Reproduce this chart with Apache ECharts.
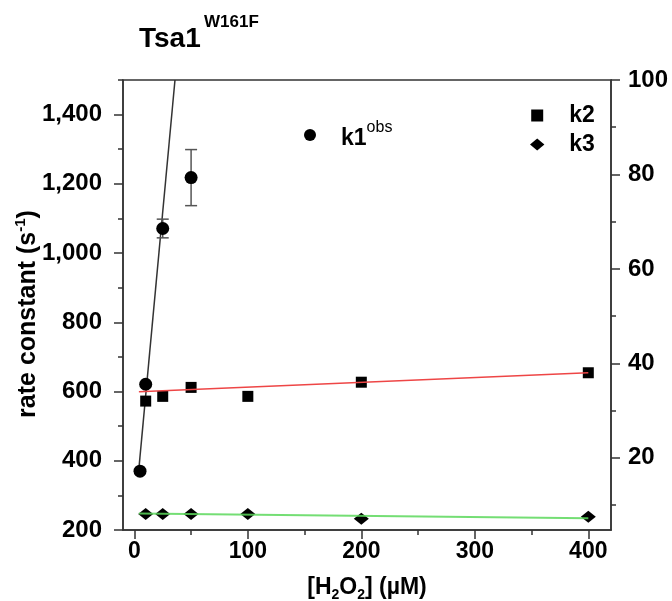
<!DOCTYPE html>
<html>
<head>
<meta charset="utf-8">
<script src="https://cdn.jsdelivr.net/npm/echarts@6/dist/echarts.min.js"></script>
<style>
html,body{margin:0;padding:0;background:#fff;}
#chart{width:672px;height:601px;}
</style>
</head>
<body>
<div id="chart"></div>
<script>
// ---- data ----
const concK1 = [5, 10, 25, 50];
const k1obs = [370, 621, 1071, 1218];
const k1err = [0, 0, 27, 81];
const concK23 = [10, 25, 50, 100, 200, 400];
const k2 = [32.0, 33.0, 34.9, 33.0, 36.0, 38.0];
const k3 = [8.1, 8.1, 8.1, 8.1, 7.1, 7.5];
const k1FitX = [3.8, 35.8];
const k1FitY = [370, 1500];
const k2FitX = [4, 400];
const k2FitY = [34.0, 38.0];
const k3FitX = [4, 400];
const k3FitY = [8.2, 7.2];
const xTicks = [0, 100, 200, 300, 400];
const xMinorTicks = [50, 150, 250, 350];
const leftTicks = [200, 400, 600, 800, 1000, 1200, 1400];
const leftMinorTicks = [300, 500, 700, 900, 1100, 1300, 1500];
const rightTicks = [20, 40, 60, 80, 100];
const rightMinorTicks = [10, 30, 50, 70, 90];

const FONT = "'Liberation Sans', Arial, Helvetica, sans-serif";
const AX = '#333';
const pairs = (xs, ys) => xs.map((x, i) => [x, ys[i]]);

const chart = echarts.init(document.getElementById('chart'), null, {renderer: 'canvas'});

const labelStyle = {fontFamily: FONT, fontSize: 23, fontWeight: 'bold', color: '#000'};

function xAx(extra) {
  return Object.assign({
    type: 'value', min: -10, max: 420, position: 'bottom',
    axisLine: {show: true, onZero: false, lineStyle: {color: AX, width: 1.5}},
    splitLine: {show: false}, nameMoveOverlap: false
  }, extra);
}
function yAx(extra) {
  return Object.assign({
    type: 'value',
    axisLine: {show: true, onZero: false, lineStyle: {color: AX, width: 1.5}},
    splitLine: {show: false}, nameMoveOverlap: false
  }, extra);
}

const option = {
  backgroundColor: '#fff',
  animation: false,
  title: [
    {text: 'Tsa1', left: 139, top: 25, padding: 0,
     textStyle: {fontFamily: FONT, fontSize: 28, fontWeight: 'bold', color: '#000'}},
    {text: 'W161F', left: 204, top: 14, padding: 0,
     textStyle: {fontFamily: FONT, fontSize: 17, fontWeight: 'bold', color: '#000'}}
  ],
  legend: [
    {
      data: [{name: 'k1obs', icon: 'circle'}],
      left: 304, top: 120, padding: 0, itemWidth: 52, itemHeight: 12,
      formatter: () => '{m|k1}{s|obs}',
      itemStyle: {opacity: 1},
      textStyle: {
        fontFamily: FONT, color: '#000',
        rich: {
          m: {fontFamily: FONT, fontSize: 23, fontWeight: 'bold', color: '#000', lineHeight: 30, verticalAlign: 'bottom'},
          s: {fontFamily: FONT, fontSize: 16, color: '#000', lineHeight: 16, verticalAlign: 'top'}
        }
      }
    },
    {
      data: [
        {name: 'k2', icon: 'path://M0,0L10,0L10,10L0,10Z'},
        {name: 'k3', icon: 'path://M6,0L12,5L6,10L0,5Z'}
      ],
      orient: 'vertical', left: 530, top: 104, padding: 0, itemGap: 6,
      itemWidth: 54, itemHeight: 12, symbolKeepAspect: true,
      itemStyle: {opacity: 1},
      textStyle: {fontFamily: FONT, fontSize: 23, fontWeight: 'bold', color: '#000'}
    }
  ],
  grid: {left: 123, right: 61, top: 80, bottom: 71, containLabel: false, outerBoundsMode: 'none',
    show: true, borderColor: AX, borderWidth: 1.5, backgroundColor: 'transparent'},
  xAxis: [
    xAx({
      name: '{t|[H}{b|2}{t|O}{b|2}{t|] (µM)}',
      nameLocation: 'middle', nameGap: 46,
      nameTextStyle: {
        rich: {
          t: {fontFamily: FONT, fontSize: 23, fontWeight: 'bold', color: '#000', lineHeight: 26, verticalAlign: 'top'},
          b: {fontFamily: FONT, fontSize: 14, fontWeight: 'bold', color: '#000', lineHeight: 14, verticalAlign: 'bottom'}
        }
      },
      axisTick: {show: true, length: 9, customValues: xTicks, lineStyle: {color: AX, width: 1.5}},
      axisLabel: Object.assign({margin: 10, customValues: xTicks}, labelStyle)
    }),
    xAx({
      axisLine: {show: false, onZero: false},
      axisTick: {show: true, length: 5, customValues: xMinorTicks, lineStyle: {color: AX, width: 1.5}},
      axisLabel: {show: false}
    })
  ],
  yAxis: [
    yAx({
      min: 200, max: 1500, position: 'left',
      axisTick: {show: true, length: 9, customValues: leftTicks, lineStyle: {color: AX, width: 1.5}},
      axisLabel: Object.assign({margin: 21, customValues: leftTicks,
        formatter: v => Number(v).toLocaleString('en-US')}, labelStyle, {fontSize: 24}),
      name: '{t|rate constant (s}{s|-1}{t|)}',
      nameLocation: 'middle', nameGap: 82, nameRotate: 90,
      nameTextStyle: {
        padding: [0, 18, 0, 0],
        rich: {
          t: {fontFamily: FONT, fontSize: 25, fontWeight: 'bold', color: '#000', lineHeight: 28, verticalAlign: 'bottom'},
          s: {fontFamily: FONT, fontSize: 15, fontWeight: 'bold', color: '#000', lineHeight: 15, verticalAlign: 'top'}
        }
      }
    }),
    yAx({
      min: 200, max: 1500, position: 'left',
      axisLine: {show: false, onZero: false},
      axisTick: {show: true, length: 5, customValues: leftMinorTicks, lineStyle: {color: AX, width: 1.5}},
      axisLabel: {show: false}
    }),
    yAx({
      min: 4.7, max: 100, position: 'right',
      axisTick: {show: true, length: 9, customValues: rightTicks, lineStyle: {color: AX, width: 1.5}},
      axisLabel: Object.assign({margin: 17, customValues: rightTicks}, labelStyle, {fontSize: 24})
    }),
    yAx({
      min: 4.7, max: 100, position: 'right',
      axisLine: {show: false, onZero: false},
      axisTick: {show: true, length: 5, customValues: rightMinorTicks, lineStyle: {color: AX, width: 1.5}},
      axisLabel: {show: false}
    })
  ],
  series: [
    {
      name: 'k1fit', type: 'line', xAxisIndex: 0, yAxisIndex: 0,
      data: pairs(k1FitX, k1FitY), showSymbol: false, symbol: 'none',
      lineStyle: {color: '#333', width: 1.5}, z: 2, silent: true
    },
    {
      name: 'k1err', type: 'custom', xAxisIndex: 0, yAxisIndex: 0,
      data: concK1.map((x, i) => [x, k1obs[i], k1err[i]]),
      renderItem: function (params, api) {
        const x = api.value(0), y = api.value(1), e = api.value(2);
        if (!e) return null;
        const top = api.coord([x, y + e]);
        const bot = api.coord([x, y - e]);
        const w = 6;
        const st = {stroke: '#555', lineWidth: 1.5, fill: null};
        return {
          type: 'group',
          children: [
            {type: 'line', shape: {x1: top[0], y1: top[1], x2: bot[0], y2: bot[1]}, style: st},
            {type: 'line', shape: {x1: top[0] - w, y1: top[1], x2: top[0] + w, y2: top[1]}, style: st},
            {type: 'line', shape: {x1: bot[0] - w, y1: bot[1], x2: bot[0] + w, y2: bot[1]}, style: st}
          ]
        };
      },
      z: 3, silent: true
    },
    {
      name: 'k1obs', type: 'scatter', xAxisIndex: 0, yAxisIndex: 0,
      data: pairs(concK1, k1obs), symbol: 'circle', symbolSize: 13,
      itemStyle: {color: '#000', opacity: 1}, z: 4
    },
    {
      name: 'k2fit', type: 'line', xAxisIndex: 0, yAxisIndex: 2,
      data: pairs(k2FitX, k2FitY), showSymbol: false, symbol: 'none',
      lineStyle: {color: '#ee4646', width: 1.5}, z: 5, silent: true
    },
    {
      name: 'k2', type: 'scatter', xAxisIndex: 0, yAxisIndex: 2,
      data: pairs(concK23, k2), symbol: 'rect', symbolSize: 11,
      itemStyle: {color: '#000', opacity: 1}, z: 4
    },
    {
      name: 'k3', type: 'scatter', xAxisIndex: 0, yAxisIndex: 2,
      data: pairs(concK23, k3), symbol: 'diamond', symbolSize: [15, 12],
      itemStyle: {color: '#000', opacity: 1}, z: 4
    },
    {
      name: 'k3fit', type: 'line', xAxisIndex: 0, yAxisIndex: 2,
      data: pairs(k3FitX, k3FitY), showSymbol: false, symbol: 'none',
      lineStyle: {color: '#5cd85c', width: 2, opacity: 0.85}, z: 6, silent: true
    }
  ]
};
chart.setOption(option);
</script>
</body>
</html>
